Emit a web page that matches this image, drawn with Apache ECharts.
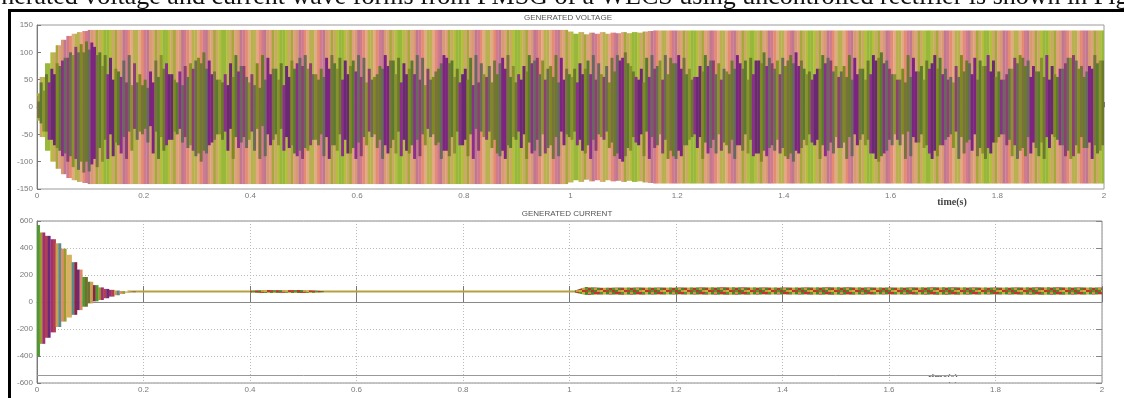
<!DOCTYPE html>
<html><head><meta charset="utf-8">
<script src="https://cdn.jsdelivr.net/npm/echarts@6/dist/echarts.min.js"></script>
<style>html,body{margin:0;padding:0;background:#fff;overflow:hidden}#c{width:1124px;height:398px}</style>
</head><body><div id="c"></div><script>
// ---------------- data ----------------
const captionText = 'Generated voltage and current wave forms from PMSG of a WECS using uncontrolled rectifier is shown in Fig';
const voltTitle = 'GENERATED VOLTAGE';
const currTitle = 'GENERATED CURRENT';
const timeLabel = 'time(s)';
const timeTicks = [0, 0.2, 0.4, 0.6, 0.8, 1, 1.2, 1.4, 1.6, 1.8, 2];
const voltTicks = [-150, -100, -50, 0, 50, 100, 150];
const currTicks = [-600, -400, -200, 0, 200, 400, 600];

// voltage: one sample every 0.01 s from 0 to 2 s
const voltStep = 0.01;
const voltEnvelope = [
  25,55,80,100,113,123,130,134,137,139,
  141,141,141,141,141,141,141,141,141,141,
  141,141,141,141,141,141,141,141,141,141,
  141,141,141,141,141,141,141,141,141,141,
  141,141,141,141,141,141,141,141,141,141,
  141,141,141,141,141,141,141,141,141,141,
  141,141,141,141,141,141,141,141,141,141,
  141,141,141,141,141,141,141,141,141,141,
  141,141,141,141,141,141,141,141,141,141,
  141,141,141,141,141,141,141,141,141,141,
  138,134,137,133,136,134,137,134,136,135,
  137,135,137,136,138,139,140,140,140,140,
  140,140,140,140,140,140,140,140,140,140,
  140,140,140,140,140,140,140,140,140,140,
  140,140,140,140,140,140,140,140,140,140,
  140,140,140,140,140,140,140,140,140,140,
  140,140,140,140,140,140,140,140,140,140,
  140,140,140,140,140,140,140,140,140,140,
  140,140,140,140,140,140,140,140,140,140,
  140,140,140,140,140,140,140,140,140,140,140
];
// extent of the dark (purple / olive) part of the stripes, two interleaved phases
const voltCoreA = [
  20,45,60,70,80,85,90,95,100,100,
  105,110,100,95,90,70,55,45,40,45,
  40,35,45,55,70,60,50,65,75,80,
  85,80,70,60,50,45,40,55,65,75,
  45,40,35,50,60,70,80,75,85,80,
  75,70,60,50,55,70,80,90,85,75,
  65,55,45,50,60,70,75,85,90,80,
  70,60,50,40,50,65,80,90,85,70,
  60,50,40,45,60,75,85,80,70,55,
  45,50,65,80,90,85,70,55,45,50,
  60,70,80,70,60,50,60,75,90,95,
  90,80,65,50,45,55,70,85,95,90,
  80,70,60,50,55,65,75,85,80,70,
  60,70,80,85,90,85,80,75,80,85,
  90,85,80,75,70,65,60,70,80,85,
  75,65,55,50,60,70,85,95,90,80,
  70,60,50,45,55,65,75,85,80,70,
  60,50,45,55,65,80,90,85,75,65,
  55,50,60,70,80,90,85,75,65,55,
  50,60,70,80,90,85,75,65,70,80,85
];
const voltCoreB = [
  10,30,45,60,75,90,100,110,115,120,
  118,95,75,60,50,65,85,95,80,60,
  50,65,85,95,80,60,45,40,55,70,
  90,100,85,65,50,60,80,95,75,55,
  60,80,95,90,70,50,40,55,70,90,
  95,80,60,70,90,95,70,50,60,85,
  95,90,70,55,75,95,85,60,45,60,
  85,95,90,70,55,70,95,80,55,45,
  70,90,95,80,55,45,60,90,95,75,
  60,75,95,85,60,50,75,95,90,70,
  55,45,60,85,95,80,55,45,65,85,
  100,75,55,70,90,95,75,50,60,80,
  95,90,70,55,75,95,85,60,50,65,
  85,95,70,50,60,85,100,90,70,60,
  75,95,100,85,60,50,70,95,90,65,
  55,75,95,90,70,50,60,85,100,85,
  60,50,70,95,90,65,50,70,95,90,
  70,55,75,95,85,60,50,75,95,85,
  65,50,70,90,95,75,55,65,90,95,
  75,55,70,90,95,70,55,75,95,85,70
];

// current start-up transient, one sample every 0.01 s from 0 to 0.18 s
const currStep = 0.01;
const currTransUpper = [570,515,490,465,435,395,350,295,240,185,150,125,108,97,90,85,81,78,77];
const currTransLower = [-400,-310,-265,-225,-185,-145,-115,-95,-60,-35,-10,5,15,28,40,50,60,68,73];
// steady current line
const currSteadyTime = [0.17, 2.0];
const currSteady = [78, 78];
// small ripple 0.40 - 0.54 s
const rippleTime = [0.40, 0.43, 0.46, 0.49, 0.52, 0.54];
const rippleLower = [70, 67, 68, 67, 69, 74];
const rippleUpper = [84, 88, 87, 88, 86, 80];
// ripple band 1.01 - 2.0 s
const bandTime = [1.01, 1.03, 1.06, 1.1, 1.2, 1.3, 1.4, 1.5, 1.6, 1.7, 1.8, 1.9, 2.0];
const bandLower = [70, 52, 56, 54, 55, 54, 55, 54, 55, 54, 55, 54, 55];
const bandUpper = [86, 112, 106, 108, 108, 109, 108, 109, 108, 109, 108, 109, 108];

// ---------------- styling ----------------
const lightPal = ['#dfa07e','#b4be3c','#d07a90','#e48c70','#c9a868','#a6a83a','#e2aa84','#c07890','#98b83c','#d89a72','#b9b050'];
const darkPal  = ['#7b2580','#808820','#6e6a58','#5a7a30','#8a3088','#77733a','#6b7a2a','#8c4070','#686860','#6a2a72','#8a902c'];
const transPal = ['#8a2545','#c8a050','#6a2a7a','#9a9a30','#e08a6a','#4f9a2f','#b04050','#d8b060','#707030','#a03070','#5a8a8a'];

function makePattern(rows, cw, ch) {
  const cv = document.createElement('canvas');
  cv.width = rows[0].length * cw; cv.height = rows.length * ch;
  const g = cv.getContext('2d');
  rows.forEach((r, ri) => r.forEach((c, ci) => { g.fillStyle = c; g.fillRect(ci * cw, ri * ch, cw, ch); }));
  return { image: cv, repeat: 'repeat' };
}
const bandFill = makePattern([
  ['#c83030','#4a9a30','#d89040','#3f8a2a','#b83a2a','#d0a040','#5a9a30'],
  ['#4a9a30','#c83030','#3f8a2a','#d89040','#c9b040','#b83a2a','#c04030'],
  ['#d89040','#3f8a2a','#c83030','#b83a2a','#4a9a30','#c9b040','#3f8a2a']
], 3, 2);

// one stripe per sample; the stripe is split into two narrow sub-stripes
function stripeLayer(gi, xs, loA, hiA, loB, hiB, pal, step, z, mulA, mulB) {
  return {
    type: 'custom', xAxisIndex: gi, yAxisIndex: gi, z: z, clip: true, silent: true,
    encode: { x: 0, y: [1, 2, 3, 4] },
    data: xs.map((t, i) => [t, loA[i], hiA[i], loB[i], hiB[i]]),
    renderItem: function (params, api) {
      const t = api.value(0);
      const w = api.size([step, 0])[0];
      const x0 = api.coord([t, 0])[0] - w / 2;
      const i = params.dataIndex, n = pal.length, w1 = w * 0.5;
      const tA = api.coord([t, api.value(2)])[1], bA = api.coord([t, api.value(1)])[1];
      const tB = api.coord([t, api.value(4)])[1], bB = api.coord([t, api.value(3)])[1];
      return { type: 'group', children: [
        { type: 'rect', shape: { x: x0, y: tA, width: w1 + 0.3, height: bA - tA }, style: { fill: pal[(i * mulA) % n] } },
        { type: 'rect', shape: { x: x0 + w1, y: tB, width: w - w1 + 0.3, height: bB - tB }, style: { fill: pal[(i * mulB + 5) % n] } }
      ]};
    }
  };
}
function bandPolygon(gi, xs, lo, hi, fill, z) {
  return {
    type: 'custom', xAxisIndex: gi, yAxisIndex: gi, z: z, clip: true, silent: true,
    encode: { x: 0, y: [1, 2] },
    data: xs.map((t, i) => [t, lo[i], hi[i]]),
    renderItem: function (params, api) {
      if (params.dataIndex !== 0) return null;
      const pts = [];
      for (let i = 0; i < xs.length; i++) pts.push(api.coord([xs[i], hi[i]]));
      for (let i = xs.length - 1; i >= 0; i--) pts.push(api.coord([xs[i], lo[i]]));
      return { type: 'polygon', shape: { points: pts }, style: { fill: fill } };
    }
  };
}

const voltTime = voltEnvelope.map((_, i) => +(i * voltStep).toFixed(2));
const voltLower = voltEnvelope.map(v => -v);
const coreLowA = voltCoreB.map(v => -v);
const coreLowB = voltCoreA.map(v => -v);
const currTime = currTransUpper.map((_, i) => +(i * currStep).toFixed(2));

const axisFont = { color: '#7a7a7a', fontSize: 8, fontFamily: 'Liberation Sans, Arial, sans-serif' };
function xAx(gi, tickLen) {
  return {
    type: 'value', gridIndex: gi, min: 0, max: 2, interval: 0.2,
    axisLine: { show: true, lineStyle: { color: '#8a8a8a', width: 1 } },
    axisTick: { show: true, inside: true, length: tickLen, lineStyle: { color: '#777' } },
    axisLabel: Object.assign({ margin: 3, formatter: v => String(timeTicks.find(t => Math.abs(t - v) < 1e-6) ?? '') }, axisFont),
    splitLine: { show: gi === 1, lineStyle: { color: '#bbb', type: [1, 2], width: 1 } }
  };
}
function yAx(gi, ticks) {
  return {
    type: 'value', gridIndex: gi, min: ticks[0], max: ticks[ticks.length - 1], interval: ticks[1] - ticks[0],
    axisLine: { show: true, lineStyle: { color: '#7a7a7a', width: 1 } },
    axisTick: { show: true, inside: true, length: 4, lineStyle: { color: '#777' } },
    axisLabel: Object.assign({ margin: 4 }, axisFont),
    splitLine: { show: gi === 1, lineStyle: { color: '#bbb', type: [1, 2], width: 1 } }
  };
}

const chart = echarts.init(document.getElementById('c'), null, { renderer: 'canvas' });
chart.setOption({
  animation: false,
  backgroundColor: '#ffffff',
  grid: [
    { left: 37, right: 20, top: 25, height: 164, show: true, borderColor: '#9a9a9a', borderWidth: 1 },
    { left: 37, right: 22, top: 221, height: 162, show: true, borderColor: '#8a8a8a', borderWidth: 1 }
  ],
  xAxis: [xAx(0, 5), xAx(1, 16)],
  yAxis: [yAx(0, voltTicks), yAx(1, currTicks),
    { type: 'value', gridIndex: 1, position: 'right', min: -600, max: 600, interval: 200,
      axisLine: { show: false }, axisLabel: { show: false }, splitLine: { show: false },
      axisTick: { show: true, inside: true, length: 6, lineStyle: { color: '#888' } } }],
  series: [
    stripeLayer(0, voltTime, voltLower, voltEnvelope, voltLower, voltEnvelope, lightPal, voltStep, 3, 4, 7),
    stripeLayer(0, voltTime, coreLowA, voltCoreA, coreLowB, voltCoreB, darkPal, voltStep, 4, 3, 5),
    { type: 'line', xAxisIndex: 1, yAxisIndex: 1, z: 3, symbol: 'none', silent: true,
      data: currSteadyTime.map((t, i) => [t, currSteady[i]]),
      lineStyle: { color: '#b8a040', width: 2 },
      markLine: { silent: true, symbol: 'none', label: { show: false },
        lineStyle: { color: '#999', type: 'solid', width: 1 }, data: [{ yAxis: -540 }] } },
    stripeLayer(1, currTime, currTransLower, currTransUpper, currTransLower, currTransUpper, transPal, currStep, 4, 3, 4),
    bandPolygon(1, rippleTime, rippleLower, rippleUpper, bandFill, 4),
    bandPolygon(1, bandTime, bandLower, bandUpper, bandFill, 4)
  ],
  graphic: [
    { type: 'text', left: -29, top: -16, silent: true,
      style: { text: captionText, fontSize: 26, fontFamily: 'Liberation Serif, Times New Roman, serif', fill: '#111' } },
    { type: 'rect', shape: { x: 8, y: 9, width: 1116, height: 3 }, style: { fill: '#000' }, silent: true },
    { type: 'rect', shape: { x: 8, y: 9, width: 3, height: 389 }, style: { fill: '#000' }, silent: true },
    { type: 'text', x: 568, y: 18, silent: true,
      style: { text: voltTitle, fontSize: 8, fontFamily: 'Liberation Sans, Arial, sans-serif', fill: '#555', align: 'center', verticalAlign: 'middle' } },
    { type: 'text', x: 567, y: 214, silent: true,
      style: { text: currTitle, fontSize: 8, fontFamily: 'Liberation Sans, Arial, sans-serif', fill: '#555', align: 'center', verticalAlign: 'middle' } },
    { type: 'text', x: 952, y: 202, silent: true,
      style: { text: timeLabel, fontSize: 10, fontWeight: 'bold', fontFamily: 'Liberation Serif, Times New Roman, serif', fill: '#444', align: 'center', verticalAlign: 'middle' } },
    { type: 'text', x: 943, y: 378, z: 1, silent: true,
      style: { text: timeLabel, fontSize: 10, fontWeight: 'bold', fontFamily: 'Liberation Serif, Times New Roman, serif', fill: '#666', align: 'center', verticalAlign: 'middle' } },
    { type: 'rect', z: 2, shape: { x: 925, y: 377, width: 36, height: 5 }, style: { fill: '#fff' }, silent: true }
  ]
});
</script></body></html>
